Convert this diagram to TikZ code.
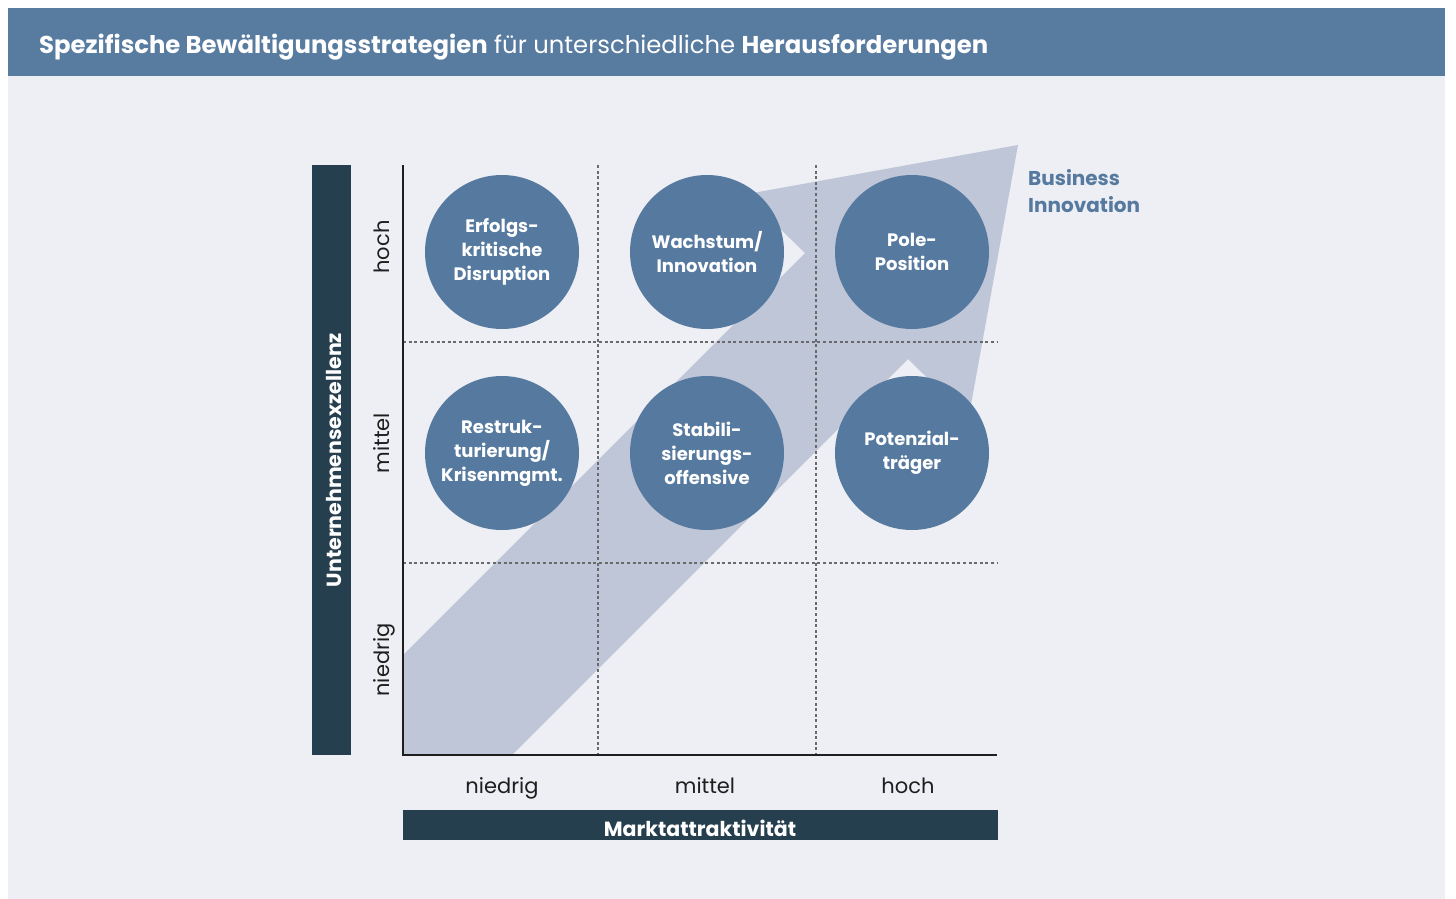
\documentclass[tikz,border=0pt]{standalone}
\usepackage{fontspec}
\setmainfont{Poppins}
\definecolor{panel}{HTML}{EEEFF4}
\definecolor{banner}{HTML}{587BA0}
\definecolor{disc}{HTML}{56799F}
\definecolor{band}{HTML}{BFC6D8}
\definecolor{navy}{HTML}{263F4E}
\definecolor{gridgray}{HTML}{6A6A6A}
\definecolor{ink}{HTML}{1E1E1E}
\begin{document}
\begin{tikzpicture}[x=1pt,y=-1pt,
  disc/.style={circle, fill=disc, minimum size=154pt, inner sep=0pt, text=white,
    align=center, font=\fontsize{18}{24}\selectfont\bfseries},
  gridline/.style={gridgray, line width=1.3pt, dash pattern=on 3pt off 2.6pt},
  axisline/.style={ink, line width=1.8pt},
  ticklabel/.style={text=ink, font=\fontsize{21}{24}\selectfont, inner sep=0pt},
  barlabel/.style={text=white, font=\fontsize{20.5}{22}\selectfont\bfseries, inner sep=0pt}]
\useasboundingbox (0,0) rectangle (1456,899);

% panel and title banner
\fill[panel] (8,8) rectangle (1445,899);
\fill[banner] (8,8) rectangle (1445,76);
\node[anchor=base west, inner sep=0pt, text=white, font=\fontsize{24.3}{28}\selectfont] (title) at (39,53)
  {\textbf{Spezifische Bewältigungsstrategien} für unterschiedliche \textbf{Herausforderungen}};

% diagonal development arrow
\fill[band] (403,755) -- (403,655) -- (805,253) -- (744.5,194.5) -- (1018,145)
  -- (968.5,418.5) -- (908,359) -- (512,755) -- cycle;
\node[anchor=base west, inner sep=0pt, text=disc, align=left,
  font=\fontsize{20}{27}\selectfont\bfseries] (bi) at (1028,212) {Business\\Innovation};

% grid
\draw[gridline] (598,165) -- (598,755);
\draw[gridline] (816,165) -- (816,755);
\draw[gridline] (403,342) -- (997,342);
\draw[gridline] (403,563) -- (997,563);
\draw[axisline] (403,165) -- (403,755) -- (997,755);

% axis bars
\fill[navy] (312,165) rectangle (351,755);
\node[barlabel, rotate=90, anchor=base] (yaxis) at (341,460) {Unternehmensexzellenz};
\fill[navy] (403,810) rectangle (998,840);
\node[barlabel, anchor=base] (xaxis) at (700,836) {Marktattraktivität};

% tick labels
\node[ticklabel, rotate=90, anchor=base] (yhoch) at (389,247) {hoch};
\node[ticklabel, rotate=90, anchor=base] (ymittel) at (389,443) {mittel};
\node[ticklabel, rotate=90, anchor=base] (yniedrig) at (389,660) {niedrig};
\node[ticklabel, anchor=base] (xniedrig) at (502,793) {niedrig};
\node[ticklabel, anchor=base] (xmittel) at (705,793) {mittel};
\node[ticklabel, anchor=base] (xhoch) at (908,793) {hoch};

% strategy discs
\node[disc] (c11) at (502,252) {Erfolgs-\\kritische\\Disruption};
\node[disc] (c12) at (707,252) {Wachstum/\\Innovation};
\node[disc] (c13) at (912,252) {Pole-\\Position};
\node[disc] (c21) at (502,453) {Restruk-\\turierung/\\Krisenmgmt.};
\node[disc] (c22) at (707,453) {Stabili-\\sierungs-\\offensive};
\node[disc] (c23) at (912,453) {Potenzial-\\träger};
\end{tikzpicture}
\end{document}
